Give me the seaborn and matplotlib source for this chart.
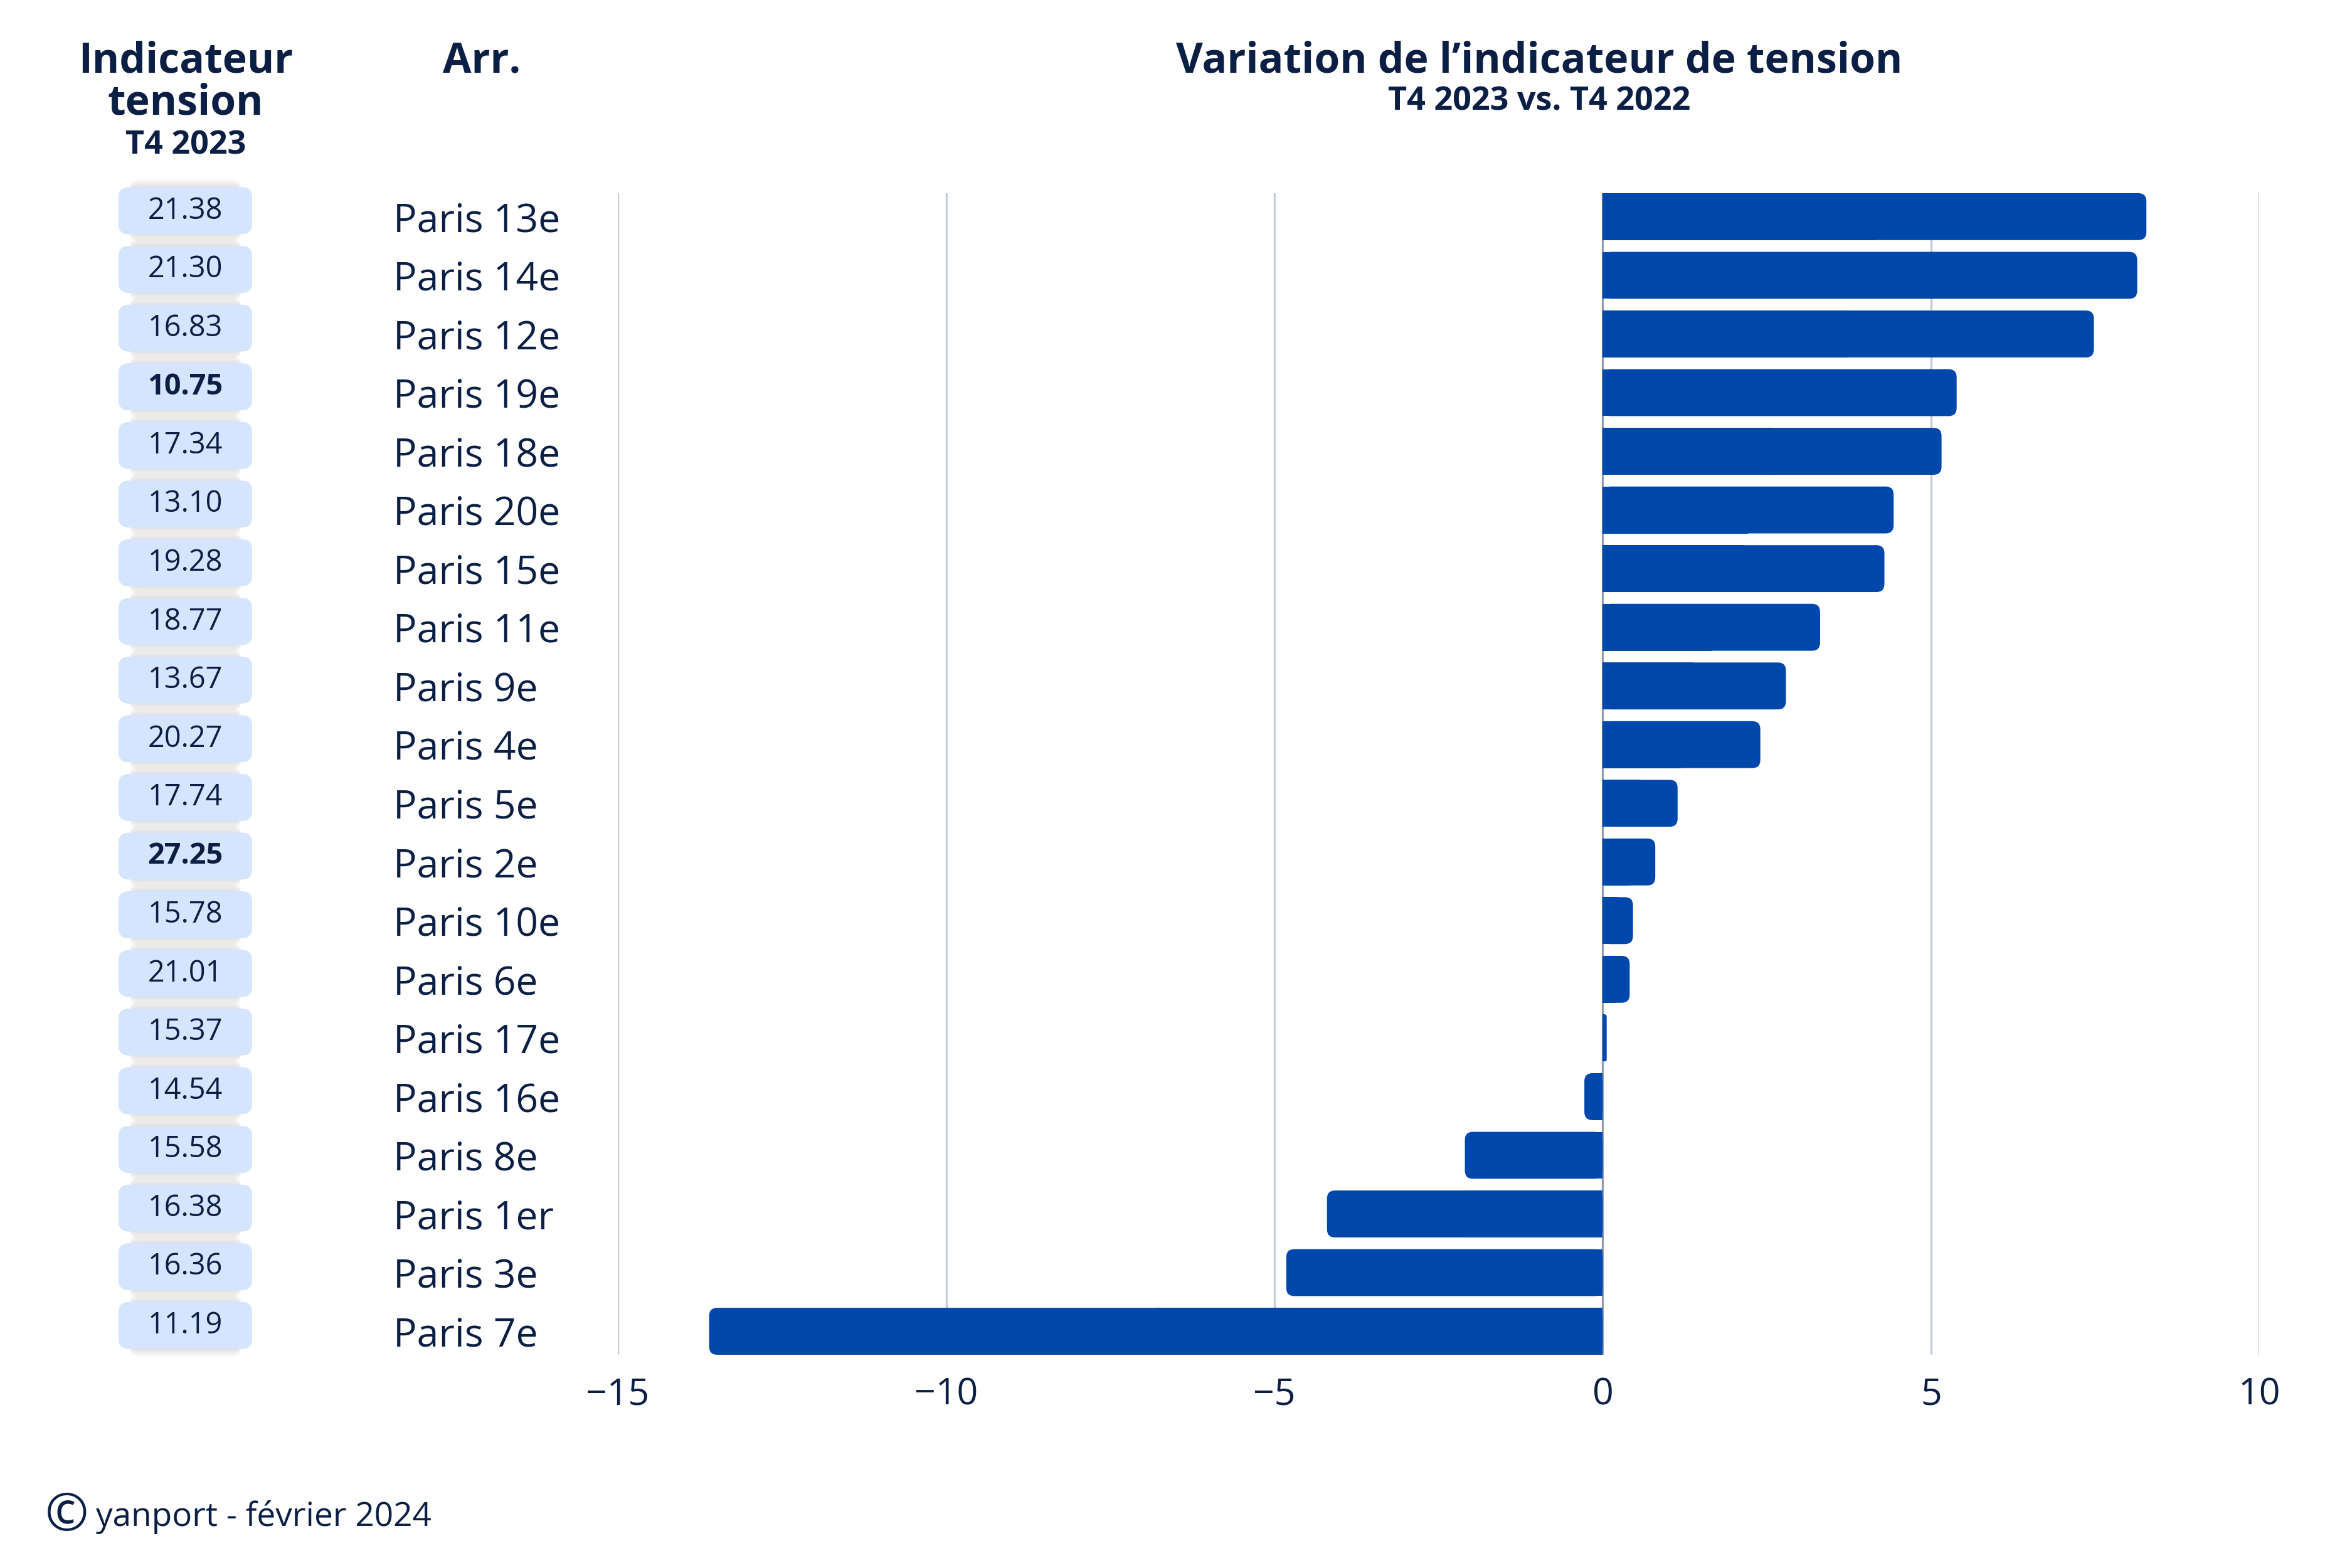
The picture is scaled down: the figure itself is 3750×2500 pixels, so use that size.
import numpy as np
import pandas as pd
import matplotlib
matplotlib.use("Agg")
import matplotlib.pyplot as plt
import matplotlib.transforms as mtransforms
from matplotlib.patches import FancyBboxPatch, Rectangle
import seaborn as sns

# --- data (top to bottom) ---
arrondissements = ["Paris 13e", "Paris 14e", "Paris 12e", "Paris 19e", "Paris 18e",
                   "Paris 20e", "Paris 15e", "Paris 11e", "Paris 9e", "Paris 4e",
                   "Paris 5e", "Paris 2e", "Paris 10e", "Paris 6e", "Paris 17e",
                   "Paris 16e", "Paris 8e", "Paris 1er", "Paris 3e", "Paris 7e"]
variation = [8.28, 8.14, 7.48, 5.39, 5.16, 4.43, 4.29, 3.31, 2.79, 2.40,
             1.14, 0.80, 0.46, 0.41, 0.06, -0.28, -2.10, -4.20, -4.82, -13.61]
tension_t4_2023 = ["21.38", "21.30", "16.83", "10.75", "17.34", "13.10", "19.28", "18.77",
                   "13.67", "20.27", "17.74", "27.25", "15.78", "21.01", "15.37", "14.54",
                   "15.58", "16.38", "16.36", "11.19"]
bold_values = ["10.75", "27.25"]
x_ticks = [-15, -10, -5, 0, 5, 10]

df = pd.DataFrame({"arr": arrondissements, "var": variation, "tension": tension_t4_2023})

# --- style ---
NAVY = "#0b1f45"
BLUE = "#0047ab"
PILL = "#d5e5fd"
GRID = "#c6ccd6"

sns.set_theme(style="white")
plt.rcParams["font.family"] = ["Open Sans", "DejaVu Sans"]
plt.rcParams["text.color"] = NAVY

fig = plt.figure(figsize=(15, 10), dpi=250)
ax = fig.add_axes([0.2627, 0.136, 0.6979, 0.7408])

sns.barplot(data=df, x="var", y="arr", orient="h", color=BLUE, width=0.8,
            saturation=1, ax=ax, zorder=3)

ax.set_xlim(-15, 10)
ax.set_ylim(19.4, -0.4)
ax.set_xticks(x_ticks)
ax.set_xticklabels([f"{t}" if t >= 0 else f"\u2212{abs(t)}" for t in x_ticks])
ax.grid(axis="x", color=GRID, linewidth=1.0, zorder=0)
ax.grid(axis="y", visible=False)
for s in ax.spines.values():
    s.set_visible(False)
ax.axvline(0, color="#8d98ab", linewidth=0.8, zorder=2)
ax.set_xlabel("")
ax.set_ylabel("")
ax.tick_params(axis="x", length=0, pad=10, labelsize=17, labelcolor=NAVY)
ax.tick_params(axis="y", length=0, pad=103, labelsize=18, labelcolor=NAVY)
for lab in ax.get_yticklabels():
    lab.set_horizontalalignment("left")

# rounded outer ends for the bars
px_x = ax.get_window_extent().width / 25.0
px_y = ax.get_window_extent().height / 19.8
r_px = 13
for p in list(ax.patches):
    b = p.get_bbox()
    x0, x1 = min(b.x0, b.x1), max(b.x0, b.x1)
    y0, y1 = min(b.y0, b.y1), max(b.y0, b.y1)
    w = x1 - x0
    rx = min(r_px / px_x, w / 2)
    ry = rx * px_x / px_y
    p.set_visible(False)
    ax.add_patch(FancyBboxPatch((x0, y0), w, y1 - y0,
                                boxstyle=f"round,pad=0,rounding_size={rx}",
                                mutation_aspect=ry / rx, facecolor=BLUE,
                                edgecolor="none", zorder=3))
    val_right = x1 > 1e-9 and abs(x0) < 1e-9
    if val_right:
        ax.add_patch(Rectangle((x0, y0), w / 2, y1 - y0, facecolor=BLUE,
                               edgecolor="none", zorder=3))
    else:
        ax.add_patch(Rectangle((x0 + w / 2, y0), w / 2, y1 - y0, facecolor=BLUE,
                               edgecolor="none", zorder=3))

# pills with the tension indicator
blend = mtransforms.blended_transform_factory(fig.transFigure, ax.transData)
pill_x0, pill_w = 0.0504, 0.0568
fig_w_px = fig.get_figwidth() * fig.dpi
for i, val in enumerate(df["tension"]):
    yc = i - 0.1
    h = 0.8
    rx = 16 / fig_w_px
    ry = 16 / px_y
    for k in range(4):
        grow = (k + 1) * 3.0 / px_y
        ax.add_patch(FancyBboxPatch((pill_x0 + pill_w * 0.08, yc - h / 2 - grow),
                                    pill_w * 0.84, h + 2 * grow,
                                    boxstyle=f"round,pad=0,rounding_size={rx}",
                                    mutation_aspect=ry / rx, facecolor="#9a9a9a",
                                    edgecolor="none", alpha=0.07, transform=blend,
                                    clip_on=False, zorder=4))
    ax.add_patch(FancyBboxPatch((pill_x0, yc - h / 2), pill_w, h,
                                boxstyle=f"round,pad=0,rounding_size={rx}",
                                mutation_aspect=ry / rx, facecolor=PILL,
                                edgecolor="none", transform=blend, clip_on=False,
                                zorder=5))
    ax.text(pill_x0 + pill_w / 2, yc, val, transform=blend, ha="center", va="center",
            fontsize=13.5, color=NAVY, zorder=6,
            fontweight="bold" if val in bold_values else "normal")

# headers
fig.text(0.0789, 0.9608, "Indicateur", ha="center", va="center", fontsize=19,
         fontweight="bold", color=NAVY)
fig.text(0.0789, 0.934, "tension", ha="center", va="center", fontsize=19,
         fontweight="bold", color=NAVY)
fig.text(0.0789, 0.907, "T4 2023", ha="center", va="center", fontsize=15,
         fontweight="bold", color=NAVY)
fig.text(0.2048, 0.9608, "Arr.", ha="center", va="center", fontsize=19,
         fontweight="bold", color=NAVY)
fig.text(0.6544, 0.9608, "Variation de l\u2019indicateur de tension", ha="center",
         va="center", fontsize=19, fontweight="bold", color=NAVY)
fig.text(0.6544, 0.935, "T4 2023 vs. T4 2022", ha="center", va="center",
         fontsize=15, fontweight="bold", color=NAVY)

# footer
fig.text(0.0283, 0.0325, "\u00a9", ha="center", va="center", fontsize=24, color=NAVY)
fig.text(0.0408, 0.0325, "yanport - f\u00e9vrier 2024", ha="left", va="center",
         fontsize=15.3, color=NAVY)

fig.savefig("out.png", dpi=250, facecolor="white")
